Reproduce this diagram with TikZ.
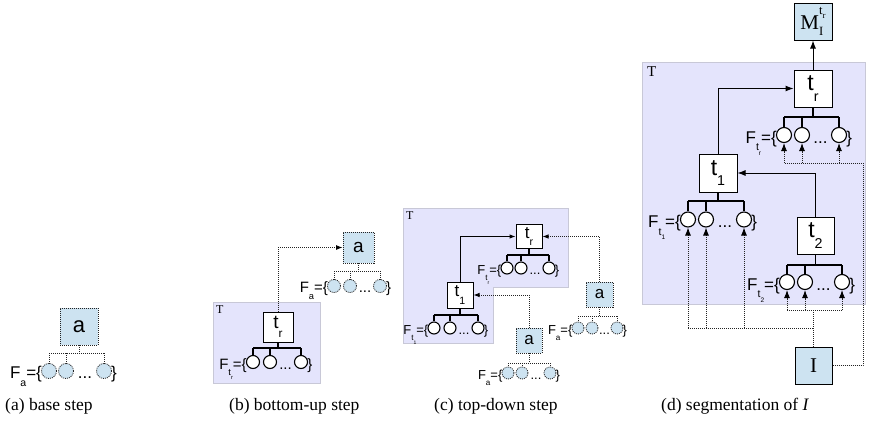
\documentclass[tikz,border=0pt]{standalone}
\usepackage{fontspec}
\setmainfont{Liberation Sans}
\newfontfamily\serif{Liberation Serif}
\usetikzlibrary{arrows.meta,calc}
\definecolor{boxblue}{RGB}{205,227,241}
\definecolor{tfill}{RGB}{228,228,252}
\definecolor{tborder}{RGB}{200,200,215}
\definecolor{dotc}{RGB}{35,35,35}
\newcommand\sbx[1]{\raisebox{-0.45em}{\scalebox{0.62}{#1}}}
\newcommand\ftree[9]{%
 \coordinate (#2y) at (0,#3);
 \coordinate (#2b) at (#1.south |- #2y);
 \node[#8circ] (#2c1) at (#4,#7) {};
 \node[#8circ] (#2c2) at (#5,#7) {};
 \node[#8circ] (#2c3) at (#6,#7) {};
 \draw[#8line] (#1.south) -- (#2b);
 \draw[#8line] (#2c1 |- #2y) -- (#2c3 |- #2y);
 \draw[#8line] (#2c1 |- #2y) -- (#2c1.north);
 \draw[#8line] (#2c2 |- #2y) -- (#2c2.north);
 \draw[#8line] (#2c3 |- #2y) -- (#2c3.north);
 \node[ftext,anchor=base east,xshift=1pt] (#2F) at (#2c1.west |- #2c1.south) {F\sbx{#9}=\{};
 \node[ftext,anchor=base] (#2d) at ($(#2c2.south)!0.5!(#2c3.south)$) {...};
 \node[ftext,anchor=base west,xshift=-1pt] (#2e) at (#2c3.east |- #2c3.south) {\}};
}
\begin{document}
\begin{tikzpicture}[x=1pt,y=-1pt,
 bluecirc/.style={circle, draw=dotc, dash pattern=on 1pt off 1pt, fill=boxblue, minimum size=\csz, inner sep=0pt, line width=0.8pt},
 whitecirc/.style={circle, draw=black, fill=white, minimum size=\csz, inner sep=0pt, line width=1.1pt},
 blueline/.style={draw=dotc, dash pattern=on 1pt off 1pt, line width=0.9pt},
 whiteline/.style={draw=black, line width=\tw},
 ftext/.style={font=\pfont, inner sep=0pt},
 tbox/.style={draw=black, fill=white, line width=1pt, inner sep=0pt, font=\lfont},
 abox/.style={draw=dotc, dash pattern=on 1pt off 1pt, fill=boxblue, line width=0.9pt, inner sep=0pt, font=\lfont},
 ibox/.style={draw=black, fill=boxblue, line width=1pt, inner sep=0pt, font=\serif\lfont},
 treg/.style={fill=tfill, draw=tborder, line width=0.8pt},
 tlab/.style={font=\serif\tfont, inner sep=0pt, anchor=north west},
 arr/.style={-{Latex[length=\alen,width=\awid]}, line width=1pt},
 dotl/.style={draw=dotc, dash pattern=on 1pt off 1pt, line width=0.9pt},
 dotarr/.style={dotl, -{Latex[length=\alen,width=\awid,fill=black,color=black]}},
 captext/.style={font=\serif\fontsize{17.5}{20}\selectfont, anchor=base west, inner sep=0pt}]
\useasboundingbox (0,0) rectangle (873,423);
\def\tw{1.5pt}\def\alen{7pt}\def\awid{5pt}
% ---------- (a)
\def\csz{15pt}\def\pfont{\fontsize{17}{20}\selectfont}\def\lfont{\fontsize{22}{26}\selectfont}
\node[abox, minimum width=38pt, minimum height=37pt] (a0) at (79,326.5) {a};
\ftree{a0}{A}{353}{49}{66}{104}{371}{blue}{a}
% ---------- (b)
\def\csz{13pt}\def\pfont{\fontsize{15}{18}\selectfont}\def\lfont{\fontsize{19}{22}\selectfont}\def\tfont{\fontsize{12}{14}\selectfont}\def\tw{1.4pt}\def\alen{6.5pt}\def\awid{5pt}
\draw[treg] (213,302) rectangle (320,383);
\node[tlab] (bT) at (216,305) {T};
\node[tbox, minimum width=30pt, minimum height=30pt] (bt) at (278,327) {t\sbx{r}};
\ftree{bt}{B}{348}{253}{270}{301}{362}{white}{t\sbx{r}}
\node[abox, minimum width=31pt, minimum height=31pt] (ba) at (358.5,247.5) {a};
\ftree{ba}{BA}{271}{334}{350}{380}{286}{blue}{a}
\draw[dotarr] (bt.north) |- (ba.west);
% ---------- (c)
\def\csz{12pt}\def\pfont{\fontsize{13}{15}\selectfont}\def\lfont{\fontsize{17}{20}\selectfont}\def\tfont{\fontsize{12}{14}\selectfont}\def\tw{1.3pt}\def\alen{6pt}\def\awid{4.5pt}
\draw[treg] (403,208) -- (568,208) -- (568,287) -- (493,287) -- (493,343) -- (403,343) -- cycle;
\node[tlab] (cT) at (406,211) {T};
\node[tbox, minimum width=26pt, minimum height=24pt] (ctr) at (529,236.5) {t\sbx{r}};
\ftree{ctr}{CR}{255}{507}{521}{549}{268}{white}{t\sbx{r}}
\node[tbox, minimum width=26pt, minimum height=26pt] (ct1) at (460,295) {t\sbx{1}};
\ftree{ct1}{CO}{315}{434}{450}{478}{328}{white}{t\sbx{1}}
\node[abox, minimum width=27pt, minimum height=25pt] (ca2) at (599.5,294.5) {a};
\ftree{ca2}{CAB}{316}{578}{592}{617}{328}{blue}{a}
\node[abox, minimum width=26pt, minimum height=25pt] (ca1) at (529,340.5) {a};
\ftree{ca1}{CAA}{363}{508}{522}{550}{373}{blue}{a}
\draw[arr] (ct1.north) |- (ctr.west);
\draw[dotarr] (ca2.north) |- (ctr.east);
\draw[dotarr] (ca1.north) |- (ct1.east);
% ---------- (d)
\def\csz{15pt}\def\pfont{\fontsize{17}{20}\selectfont}\def\lfont{\fontsize{23}{27}\selectfont}\def\tfont{\fontsize{15}{18}\selectfont}\def\tw{1.7pt}\def\alen{8pt}\def\awid{6pt}
\draw[treg] (642,62) rectangle (865,304);
\node[tlab] (dT) at (647,66) {T};
\node[ibox, minimum width=38pt, minimum height=37pt, font=\serif\fontsize{21}{24}\selectfont] (dM) at (813,21.5) {M\rlap{\raisebox{-0.3em}{\scalebox{0.6}{I}}}\raisebox{0.7em}{\scalebox{0.6}{t\raisebox{-0.3em}{\scalebox{0.7}{r}}}}};
\node[tbox, minimum width=38pt, minimum height=37pt] (dtr) at (813,88.5) {t\sbx{r}};
\ftree{dtr}{DR}{117}{784}{802}{839}{135}{white}{t\sbx{r}}
\node[tbox, minimum width=38pt, minimum height=38pt] (dt1) at (718,173) {t\sbx{1}};
\ftree{dt1}{DO}{201}{688}{706}{744}{219.5}{white}{t\sbx{1}}
\node[tbox, minimum width=37pt, minimum height=37pt] (dt2) at (815.5,235.5) {t\sbx{2}};
\ftree{dt2}{DT}{265}{787}{805}{842}{282}{white}{t\sbx{2}}
\node[ibox, minimum width=37pt, minimum height=37pt, font=\serif\fontsize{21}{24}\selectfont] (dI) at (813.5,365.5) {I};
\draw[arr] (dtr.north) -- (dM.south);
\draw[arr] (dt1.north) |- (dtr.west);
\draw[arr] (dt2.north) |- (dt1.east);
% dotted inputs
\coordinate (dR) at (863,163);
\coordinate (dL) at (DRc1 |- dR);
\draw[dotl] (dI.east) -| (dR) -- (dL);
\draw[dotarr] (DRc1 |- dR) -- (DRc1.south);
\draw[dotarr] (DRc2 |- dR) -- (DRc2.south);
\draw[dotarr] (DRc3 |- dR) -- (DRc3.south);
\coordinate (jy2) at (0,310);
\coordinate (jy1) at (0,328);
\coordinate (j2) at (dI.north |- jy2);
\coordinate (j1) at (dI.north |- jy1);
\draw[dotl] (dI.north) -- (j2);
\draw[dotl] (DTc1 |- j2) -- (DTc3 |- j2);
\draw[dotarr] (DTc1 |- j2) -- (DTc1.south);
\draw[dotarr] (DTc2 |- j2) -- (DTc2.south);
\draw[dotarr] (DTc3 |- j2) -- (DTc3.south);
\draw[dotl] (DOc1 |- j1) -- (j1);
\draw[dotarr] (DOc1 |- j1) -- (DOc1.south);
\draw[dotarr] (DOc2 |- j1) -- (DOc2.south);
\draw[dotarr] (DOc3 |- j1) -- (DOc3.south);
% ---------- captions
\node[captext] (capa) at (5,410) {(a) base step};
\node[captext] (capb) at (229,410) {(b) bottom-up step};
\node[captext] (capc) at (434,410) {(c) top-down step};
\node[captext] (capd) at (661,410) {(d) segmentation of \textit{I}};
\end{tikzpicture}
\end{document}
